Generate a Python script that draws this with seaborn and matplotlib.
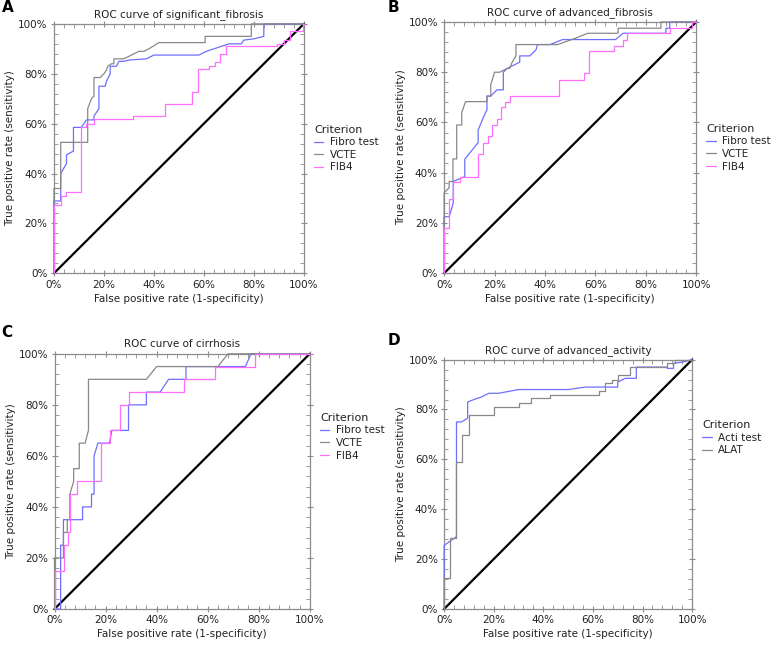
import matplotlib
matplotlib.use("Agg")
import matplotlib.pyplot as plt
from matplotlib.ticker import MultipleLocator, PercentFormatter
import numpy as np
import pandas as pd
import seaborn as sns

sns.set_style("ticks")
plt.rcParams['font.family'] = ['DejaVu Sans']

# ---- panel A: significant fibrosis (false positive rate %, true positive rate %)
a_fibro_fpr = [0, 0, 2.7, 2.7, 5, 5, 7.8, 7.8, 11, 13, 16, 16, 18, 18, 20.5, 21, 22.5, 22.5, 25, 26, 28, 30, 37, 40, 58, 61, 70, 75, 76, 80, 84, 84, 100]
a_fibro_tpr = [0, 29, 29, 40, 44, 47.5, 49, 58.5, 58.5, 61.5, 61.5, 63, 66, 75, 75, 77, 80, 83, 83, 85, 85, 85.5, 86, 87.5, 87.5, 89, 92, 92, 93.5, 94, 95, 100, 100]
a_vcte_fpr = [0, 0, 2.7, 2.7, 13.5, 13.5, 15, 16, 16, 18.5, 20, 21, 21.5, 23, 24, 24, 28, 30, 34, 36, 38, 42, 60.5, 60.5, 79, 79, 100]
a_vcte_tpr = [0, 34, 34, 52.5, 52.5, 66, 70, 71, 78.5, 78.5, 80, 81.5, 83, 84, 84, 86, 86, 87, 89, 89, 90, 92.5, 92.5, 95, 95, 100, 100]
a_fib4_fpr = [0, 0, 2.7, 2.7, 5, 5, 10.7, 10.7, 13, 13, 16, 16, 31.6, 31.6, 44.6, 44.6, 55.1, 55.1, 57.7, 57.7, 62, 62, 64.5, 64.5, 66.5, 66.5, 68.8, 68.8, 89.3, 89.3, 92, 92, 94.5, 94.5, 99.5, 99.5, 100]
a_fib4_tpr = [0, 27.5, 27.5, 31, 31, 32.5, 32.5, 58.5, 58.5, 60, 60, 61.8, 61.8, 63, 63, 67.8, 67.8, 72.6, 72.6, 81.8, 81.8, 83.3, 83.3, 84.8, 84.8, 88, 88, 91, 91, 92, 92, 93.5, 93.5, 97, 97, 100, 100]

# ---- panel B: advanced fibrosis
b_fibro_fpr = [0, 0, 2, 3.6, 3.6, 8.2, 8.2, 13.5, 13.5, 16, 17, 17, 18.5, 21, 23.5, 23.5, 25, 28, 30, 30, 34, 36.5, 37, 42, 47, 68, 71, 88, 88, 89.5, 89.5, 100]
b_fibro_tpr = [0, 22.5, 22.5, 27.8, 36.5, 38.5, 45.4, 52, 57, 63, 65, 70.5, 70.5, 73, 73, 80, 81.5, 83, 84, 86.5, 86.5, 89, 91, 91, 93, 93, 95.5, 95.5, 97.5, 97.5, 100, 100]
b_vcte_fpr = [0, 0, 2, 2, 3.5, 3.5, 5, 5, 7, 7, 8.5, 17, 17, 18.5, 18.5, 20, 22, 25, 26, 27, 28.5, 28.5, 45, 52, 57, 69, 69, 86, 86, 100]
b_vcte_tpr = [0, 32, 34, 36.5, 36.5, 45.5, 45.5, 59, 59, 64, 68.3, 68.3, 70.5, 70.5, 75, 80, 80, 81.5, 81.5, 84, 86.5, 91, 91, 93.5, 95.5, 95.5, 97.5, 97.5, 100, 100]
b_fib4_fpr = [0, 0, 2, 2, 3.5, 3.5, 6.5, 6.5, 13.5, 13.5, 15.5, 15.5, 17.5, 17.5, 19, 19, 21, 21, 22.5, 22.5, 24, 24, 26, 26, 45.5, 45.5, 55.5, 55.5, 57.5, 57.5, 67.5, 67.5, 71, 71, 72.5, 72.5, 89.5, 89.5, 98.5, 98.5, 100]
b_fib4_tpr = [0, 18, 18, 29.5, 29.5, 36.5, 36.5, 38.5, 38.5, 47.5, 47.5, 52, 52, 54.5, 54.5, 59, 59, 61.5, 61.5, 66, 66, 68, 68, 70.5, 70.5, 77, 77, 79.5, 79.5, 88.5, 88.5, 90.5, 90.5, 93, 93, 95.5, 95.5, 97.5, 97.5, 100, 100]

# ---- panel C: cirrhosis
c_fibro_fpr = [0, 2.4, 2.4, 3.5, 3.5, 11, 11, 14.5, 14.5, 15.5, 15.5, 17, 21.5, 22.5, 29, 29, 36, 36, 41.4, 44.7, 51.5, 51.5, 74.8, 77, 100]
c_fibro_tpr = [0, 0, 25, 25, 35, 35, 40, 40, 45, 45, 60, 65, 65, 70, 70, 80, 80, 85, 85, 90, 90, 95, 95, 100, 100]
c_vcte_fpr = [0, 0, 3.5, 3.5, 5, 5, 6, 6, 7.5, 7.5, 9.7, 9.7, 12, 13.3, 13.3, 36, 40, 64, 68, 100]
c_vcte_tpr = [0, 20, 20, 30, 30, 35, 35, 45, 50, 55, 55, 65, 65, 70, 90, 90, 95, 95, 100, 100]
c_fib4_fpr = [0, 0, 3.8, 3.8, 5.2, 5.2, 6.1, 6.1, 8.8, 8.8, 18.2, 18.2, 21.8, 21.8, 25.5, 25.5, 29.3, 29.3, 50.6, 50.6, 62.7, 62.7, 78.4, 78.4, 100]
c_fib4_tpr = [0, 15, 15, 25, 25, 30, 30, 45, 45, 50, 50, 65, 65, 70, 70, 80, 80, 85, 85, 90, 90, 95, 95, 100, 100]

# ---- panel D: advanced activity
d_acti_fpr = [0, 0, 5, 5, 7, 9.5, 9.5, 12, 15, 18, 22, 30, 50, 57, 70, 70, 73, 77.5, 77.5, 90, 90, 92.5, 92.5, 96, 100]
d_acti_tpr = [0, 25.5, 29, 75, 75, 76.5, 83, 84, 85, 86.5, 86.5, 88, 88, 89, 89, 91, 92.5, 92.5, 97, 97, 96.5, 96.5, 98.5, 99, 100]
d_alat_fpr = [0, 0, 2.5, 2.5, 5, 5, 7.4, 7.4, 10.1, 10.1, 20, 20, 30, 30, 35, 35, 42.5, 42.5, 62.5, 62.5, 65, 65, 67.5, 67.5, 70, 70, 75, 75, 90, 90, 93, 93, 100]
d_alat_tpr = [0, 12.5, 12.5, 28.5, 28.5, 59, 59, 69.6, 69.6, 77.9, 77.9, 81, 81, 82.5, 82.5, 84.5, 84.5, 86, 86, 87.5, 87.5, 90.5, 90.5, 92, 92, 94, 94, 97, 97, 98.5, 98.5, 100, 100]

chance = [0, 100]

# letter, title, curves, axes rect, legend y, letter position
panels = [
    ("A", "ROC curve of significant_fibrosis",
     [("Fibro test", a_fibro_fpr, a_fibro_tpr), ("VCTE", a_vcte_fpr, a_vcte_tpr), ("FIB4", a_fib4_fpr, a_fib4_tpr)],
     [0.070, 0.577, 0.324, 0.386], 0.50, (0.002, 0.977)),
    ("B", "ROC curve of advanced_fibrosis",
     [("Fibro test", b_fibro_fpr, b_fibro_tpr), ("VCTE", b_vcte_fpr, b_vcte_tpr), ("FIB4", b_fib4_fpr, b_fib4_tpr)],
     [0.576, 0.577, 0.327, 0.389], 0.50, (0.503, 0.977)),
    ("C", "ROC curve of cirrhosis",
     [("Fibro test", c_fibro_fpr, c_fibro_tpr), ("VCTE", c_vcte_fpr, c_vcte_tpr), ("FIB4", c_fib4_fpr, c_fib4_tpr)],
     [0.0707, 0.0573, 0.331, 0.395], 0.675, (0.002, 0.473)),
    ("D", "ROC curve of advanced_activity",
     [("Acti test", d_acti_fpr, d_acti_tpr), ("ALAT", d_alat_fpr, d_alat_tpr)],
     [0.576, 0.0573, 0.3217, 0.386], 0.687, (0.503, 0.462)),
]

palette = {"Fibro test": "#6e6eff", "Acti test": "#6e6eff", "VCTE": "#888888",
           "ALAT": "#888888", "FIB4": "#ff6eff"}
frame_col = "#8c8c8c"
text_col = "#222222"
fs = 7.5

fig = plt.figure(figsize=(7.71, 6.46), dpi=100)

for letter, title, curves, rect, leg_y, lpos in panels:
    ax = fig.add_axes(rect)
    df = pd.concat([pd.DataFrame({"fpr": fx, "tpr": ty, "Criterion": name})
                    for name, fx, ty in curves], ignore_index=True)
    ax.plot(chance, chance, color="black", lw=1.6, zorder=2)
    sns.lineplot(data=df, x="fpr", y="tpr", hue="Criterion", palette=palette,
                 sort=False, estimator=None, lw=0.9, ax=ax, zorder=3)
    for ln in ax.get_lines():
        ln.set_clip_on(False)
    ax.set_xlim(0, 100)
    ax.set_ylim(0, 100)
    ax.xaxis.set_major_locator(MultipleLocator(20))
    ax.yaxis.set_major_locator(MultipleLocator(20))
    ax.xaxis.set_minor_locator(MultipleLocator(4))
    ax.yaxis.set_minor_locator(MultipleLocator(4))
    ax.xaxis.set_major_formatter(PercentFormatter(100, decimals=0))
    ax.yaxis.set_major_formatter(PercentFormatter(100, decimals=0))
    ax.tick_params(which="major", direction="inout", length=5, width=0.8, color=frame_col,
                   top=True, right=True, labelsize=fs, labelcolor=text_col, pad=2)
    ax.tick_params(which="minor", direction="in", length=3, width=0.6, color=frame_col,
                   top=True, right=True)
    for sp in ax.spines.values():
        sp.set_color(frame_col)
        sp.set_linewidth(0.9)
    ax.set_xlabel("False positive rate (1-specificity)", fontsize=fs, color=text_col, labelpad=3)
    ax.set_ylabel("True positive rate (sensitivity)", fontsize=fs, color=text_col, labelpad=2)
    ax.set_title(title, fontsize=fs, color=text_col, pad=5)
    leg = ax.legend(title="Criterion", loc="center left", bbox_to_anchor=(1.02, leg_y),
                    frameon=False, fontsize=fs, title_fontsize=fs + 0.5, handlelength=0.9,
                    handletextpad=0.6, labelspacing=0.25, alignment="left", borderpad=0)
    for t in leg.get_texts():
        t.set_color(text_col)
    leg.get_title().set_color(text_col)
    # panel letter
    fig.text(lpos[0], lpos[1], letter, fontsize=11, fontweight="bold",
             va="bottom", ha="left", color="black")

fig.savefig("out.png", dpi=100)
